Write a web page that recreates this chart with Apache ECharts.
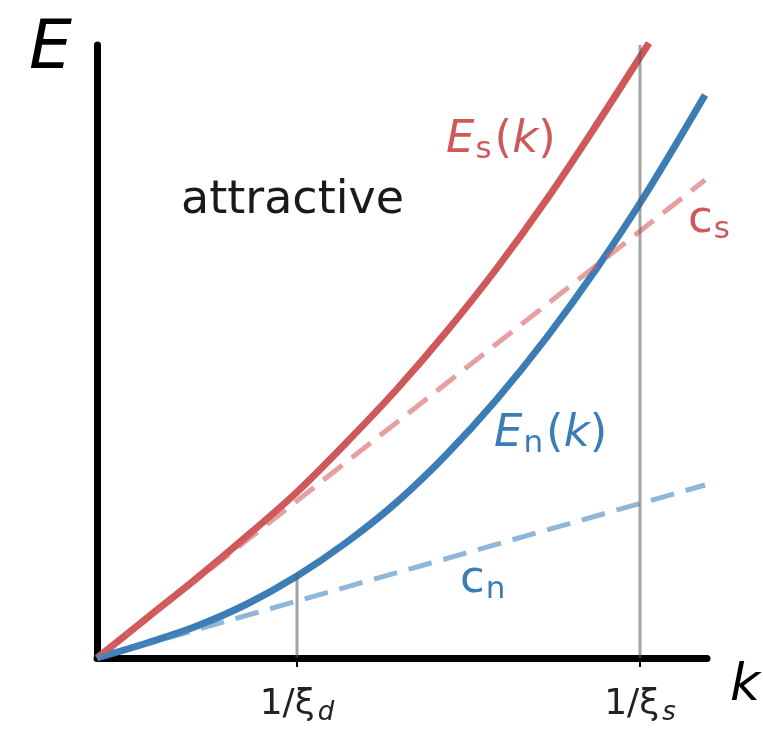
<!DOCTYPE html>
<html lang="en">
<head>
    <meta charset="UTF-8" />
    <title>E(k)</title>
    <script src="https://cdn.jsdelivr.net/npm/echarts@6/dist/echarts.min.js"></script>
</head>
<body style="margin:0">
<div id="main" style="width:763px;height:737px;"></div>
<script type="text/javascript">
    // 读图得到的数据（横轴 k，纵轴 E）
    var kEs = [0, 0.5, 1, 1.5, 2, 2.5, 3, 3.5, 4, 4.5, 5, 5.52];
    var esVals = [0, 0.40, 0.80, 1.22, 1.66, 2.16, 2.69, 3.27, 3.90, 4.59, 5.34, 6.15];
    var kEn = [0, 0.5, 1, 1.5, 2, 2.5, 3, 3.5, 4, 4.5, 5, 5.5, 6.08];
    var enVals = [0, 0.15, 0.32, 0.54, 0.82, 1.16, 1.56, 2.04, 2.59, 3.21, 3.90, 4.66, 5.63];
    var kLin = [0, 6.08];
    var csVals = [0, 4.78];
    var cnVals = [0, 1.73];
    var tickK = [2.0, 5.43];
    var tickSubs = ['d', 's'];
    var vTop = [0.85, 6.13];

    function pairs(xs, ys) {
        var out = [];
        for (var i = 0; i < xs.length; i++) out.push([xs[i], ys[i]]);
        return out;
    }

    var red = '#cf585a', blue = '#3c7db6';
    var font = 'DejaVu Sans';

    // 带下标的标签
    function subLabel(color, size) {
        return {
            e: { fontFamily: font, fontSize: size, fontStyle: 'italic', fill: color },
            p: { fontFamily: font, fontSize: size, fill: color },
            c: { fontFamily: font, fontSize: size, fill: color },
            sub: { fontFamily: font, fontSize: Math.round(size * 0.7), fill: color, padding: [Math.round(size * 0.4), 3, 0, 1] }
        };
    }

    var myChart = echarts.init(document.getElementById('main'));
    var option = {
        animation: false,
        grid: { left: 97, top: 45, width: 610, height: 613 },
        xAxis: {
            type: 'value', min: 0, max: 6.1,
            splitLine: { show: false },
            axisLine: { lineStyle: { color: '#000', width: 7 } },
            axisTick: { customValues: tickK, length: 9, lineStyle: { color: '#000', width: 2 } },
            axisLabel: {
                customValues: tickK,
                margin: 26,
                color: '#222',
                fontFamily: font,
                fontSize: 36,
                formatter: function (v) {
                    var i = tickK.indexOf(v);
                    return '1/ξ{sub|' + tickSubs[i] + '}';
                },
                rich: {
                    sub: { fontFamily: font, fontSize: 26, fontStyle: 'italic', color: '#222', padding: [16, 0, 0, 3] }
                }
            }
        },
        yAxis: {
            type: 'value', min: 0, max: 6.13,
            splitLine: { show: false },
            axisTick: { show: false },
            axisLabel: { show: false },
            axisLine: { show: true, lineStyle: { color: '#000', width: 7 } }
        },
        series: [
            {
                type: 'line', data: pairs(kEs, esVals), smooth: 0.35, symbol: 'none',
                lineStyle: { color: red, width: 7 }
            },
            {
                type: 'line', data: pairs(kEn, enVals), smooth: 0.35, symbol: 'none',
                lineStyle: { color: blue, width: 7 }
            },
            {
                type: 'line', data: pairs(kLin, csVals), symbol: 'none',
                lineStyle: { color: 'rgba(214,96,98,0.6)', width: 5, type: [24, 12] }
            },
            {
                type: 'line', data: pairs(kLin, cnVals), symbol: 'none',
                lineStyle: { color: 'rgba(70,135,190,0.6)', width: 5, type: [24, 12] }
            },
            {
                type: 'line', data: [[tickK[0], 0], [tickK[0], vTop[0]]], symbol: 'none',
                lineStyle: { color: 'rgba(90,90,90,0.55)', width: 3 }
            },
            {
                type: 'line', data: [[tickK[1], 0], [tickK[1], vTop[1]]], symbol: 'none',
                lineStyle: { color: 'rgba(90,90,90,0.55)', width: 3 }
            }
        ],
        graphic: [
            { type: 'text', left: 29, top: 16, style: { text: 'E', font: 'italic 68px ' + font, fill: '#000' } },
            { type: 'text', left: 730, top: 660, style: { text: 'k', font: 'italic 52px ' + font, fill: '#000' } },
            { type: 'text', left: 181, top: 178, style: { text: 'attractive', font: '46px ' + font, fill: '#1a1a1a' } },
            {
                type: 'text', left: 446, top: 118,
                style: { text: '{e|E}{sub|s}{p|(}{e|k}{p|)}', fill: red, rich: subLabel(red, 45) }
            },
            {
                type: 'text', left: 494, top: 412,
                style: { text: '{e|E}{sub|n}{p|(}{e|k}{p|)}', fill: blue, rich: subLabel(blue, 45) }
            },
            {
                type: 'text', left: 688, top: 198,
                style: { text: '{c|c}{sub|s}', fill: red, rich: subLabel(red, 45) }
            },
            {
                type: 'text', left: 460, top: 558,
                style: { text: '{c|c}{sub|n}', fill: blue, rich: subLabel(blue, 45) }
            }
        ]
    };
    myChart.setOption(option);
</script>
</body>
</html>
